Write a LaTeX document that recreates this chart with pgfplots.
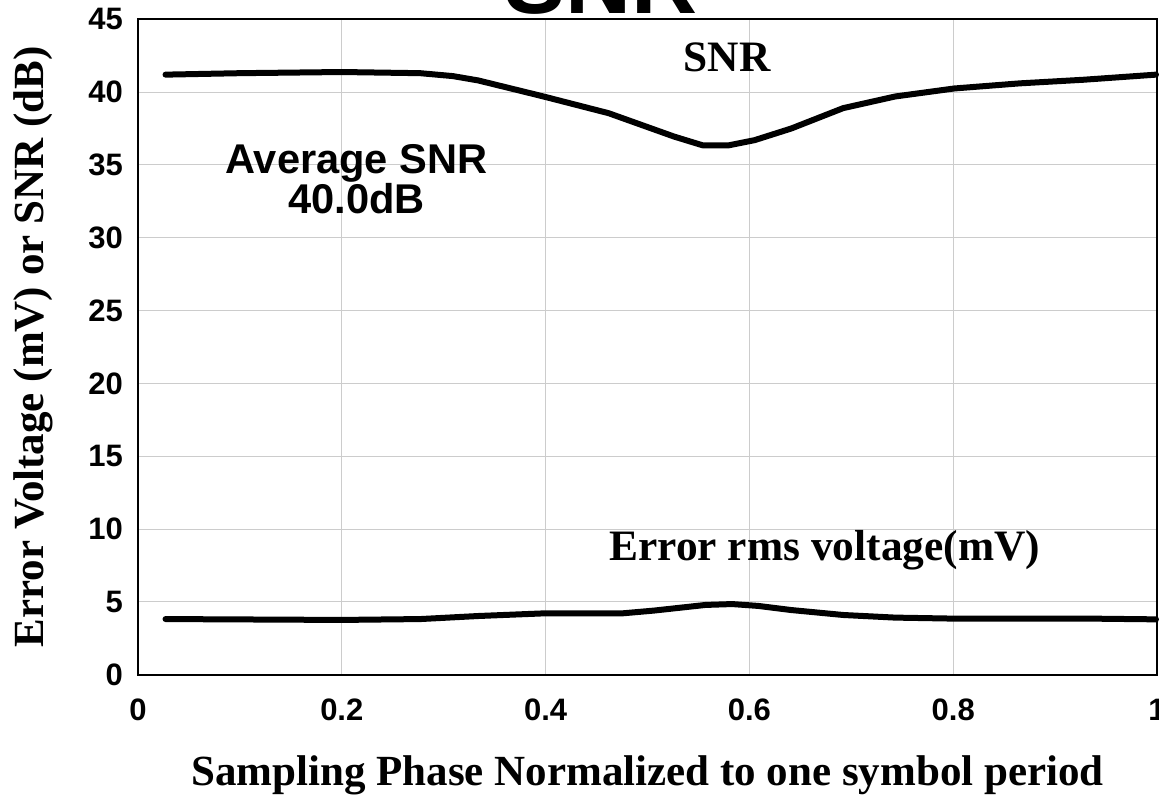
\documentclass[border=0pt]{standalone}
\usepackage{pgfplots}
\pgfplotsset{compat=1.18}
\usepackage{fontspec}
\setmainfont{Liberation Serif}
\setsansfont{Liberation Sans}

\begin{document}
\begin{tikzpicture}
\begin{axis}[
    name=ax,
    scale only axis,
    width=509.5pt, height=327.7pt,
    xmin=0, xmax=1, ymin=0, ymax=45,
    xtick={0,0.2,...,1}, ytick={0,5,...,45},
    major tick length=0pt,
    grid=major,
    grid style={line width=0.5pt, color=black!20},
    axis line style={line width=0.8pt, black},
    /pgf/number format/assume math mode=true,
    ticklabel style={font=\fontsize{15.5}{18}\selectfont\sffamily\bfseries},
    yticklabel style={xshift=-4pt},
    xticklabel style={yshift=-8.5pt},
    xlabel={Sampling Phase Normalized to one symbol period},
    ylabel={Error Voltage (mV) or SNR (dB)},
    label style={font=\fontsize{21.5}{24}\selectfont\bfseries},
    xlabel style={at={(axis description cs:0.5,-0.1694)}, anchor=base},
    ylabel style={at={(axis description cs:-0.0925,0.5)}, anchor=base},
    clip=false,
]
% SNR (dB)
\addplot[black, line width=3pt, line join=round, line cap=round] coordinates {
    (0.027,41.2) (0.100,41.3) (0.200,41.38) (0.277,41.3) (0.309,41.1)
    (0.334,40.8) (0.398,39.7) (0.462,38.55) (0.526,36.95) (0.554,36.35)
    (0.580,36.35) (0.605,36.7) (0.641,37.5) (0.692,38.9) (0.743,39.7)
    (0.801,40.25) (0.865,40.6) (0.928,40.85) (0.999,41.2)
};
% error rms voltage (mV)
\addplot[black, line width=3pt, line join=round, line cap=round] coordinates {
    (0.027,3.82) (0.200,3.76) (0.277,3.82) (0.334,4.03) (0.398,4.21)
    (0.475,4.21) (0.506,4.4) (0.557,4.79) (0.583,4.85) (0.609,4.72)
    (0.641,4.44) (0.692,4.1) (0.743,3.92) (0.801,3.85) (0.935,3.85)
    (0.999,3.8)
};

\node[anchor=base, font=\fontsize{21.7}{24}\selectfont\bfseries] at (axis cs:0.578,41.45) {SNR};
\node[anchor=base, font=\fontsize{21.7}{24}\selectfont\bfseries] at (axis cs:0.674,7.84) {Error rms voltage(mV)};
\node[anchor=base, font=\fontsize{20.8}{24}\selectfont\sffamily\bfseries] at (axis cs:0.2144,34.41) {Average SNR};
\node[anchor=base, font=\fontsize{20.8}{24}\selectfont\sffamily\bfseries] at (axis cs:0.2144,31.67) {40.0dB};
\node[anchor=base, font=\fontsize{45.7}{50}\selectfont\sffamily\bfseries, yshift=2.65pt] at (rel axis cs:0.4544,1) {SNR};
\end{axis}
\pgfresetboundingbox
\path ([shift={(-69pt,-60.65pt)}]ax.south west) rectangle ([shift={(1pt,9.65pt)}]ax.north east);
\end{tikzpicture}
\end{document}
